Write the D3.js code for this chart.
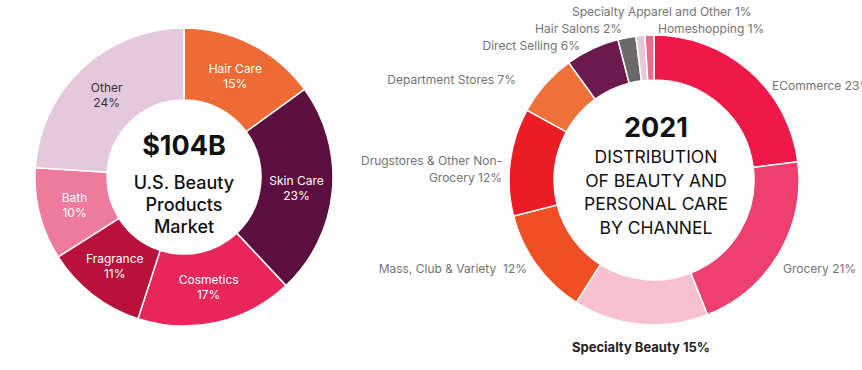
<!DOCTYPE html>
<html>
<head>
<meta charset="utf-8">
<script src="https://cdn.jsdelivr.net/npm/d3@7"></script>
<style>
  body { margin: 0; background: #fff; }
  text { font-family: Inter, "Noto Sans", sans-serif; }
</style>
</head>
<body>
<div id="chart"></div>
<script>
// Left donut: U.S. beauty products market
const productCats = ["Hair Care", "Skin Care", "Cosmetics", "Fragrance", "Bath", "Other"];
const productShares = [15, 23, 17, 11, 10, 24];
const productColors = ["#ee6b35", "#5c0e3f", "#e8265a", "#b8123c", "#ef7b9c", "#e4c8dd"];

// Right donut: distribution by channel (2021)
const channelCats = ["ECommerce", "Grocery", "Specialty Beauty", "Mass, Club & Variety", "Drugstores & Other Non-Grocery",
  "Department Stores", "Direct Selling", "Hair Salons", "Specialty Apparel and Other", "Homeshopping"];
const channelShares = [23, 21, 15, 12, 12, 7, 6, 2, 1, 1];
const channelColors = ["#ee1849", "#ee3f6e", "#f7c1cf", "#f04e23", "#ec1c24", "#f0703a", "#6c1a4e", "#6b6869", "#e2c9dc", "#f06a8b"];
const channelLabels = [
  ["ECommerce 23%"], ["Grocery 21%"], ["Specialty Beauty 15%"], ["Mass, Club & Variety  12%"],
  ["Drugstores & Other Non-", "Grocery 12%"], ["Department Stores 7%"], ["Direct Selling 6%"],
  ["Hair Salons 2%"], ["Specialty Apparel and Other 1%"], ["Homeshopping 1%"]
];

const width = 862, height = 370;

const svg = d3.select("#chart").append("svg")
  .attr("width", width)
  .attr("height", height);

const pie = d3.pie().sort(null).value(d => d);

// ---- left chart
const left = { cx: 184, cy: 177, r0: 77, r1: 149 };
const leftArc = d3.arc().innerRadius(left.r0).outerRadius(left.r1);
const gL = svg.append("g").attr("transform", `translate(${left.cx},${left.cy})`);

const leftArcs = pie(productShares);
gL.selectAll("path")
  .data(leftArcs)
  .join("path")
  .attr("d", leftArc)
  .attr("fill", (d, i) => productColors[i])
  .attr("stroke", "#fff")
  .attr("stroke-width", 1.5);

const leftLabelArc = d3.arc().innerRadius(113).outerRadius(113);
const lbl = gL.selectAll("text.slice")
  .data(leftArcs)
  .join("text")
  .attr("class", "slice")
  .attr("text-anchor", "middle")
  .attr("font-size", 12)
  .attr("fill", (d, i) => productCats[i] === "Other" ? "#333" : "#fff");
lbl.append("tspan")
  .attr("x", d => leftLabelArc.centroid(d)[0])
  .attr("y", d => leftLabelArc.centroid(d)[1] - 3)
  .text((d, i) => productCats[i]);
lbl.append("tspan")
  .attr("x", d => leftLabelArc.centroid(d)[0])
  .attr("y", d => leftLabelArc.centroid(d)[1] + 12)
  .text(d => d.data + "%");

gL.append("text")
  .attr("text-anchor", "middle").attr("y", -22)
  .attr("font-size", 27).attr("font-weight", 700).attr("fill", "#111")
  .text("$104B");
["U.S. Beauty", "Products", "Market"].forEach((t, i) => {
  gL.append("text")
    .attr("text-anchor", "middle").attr("y", 12 + i * 22)
    .attr("font-size", 18).attr("font-weight", 500).attr("fill", "#111")
    .text(t);
});

// ---- right chart
const right = { cx: 654, cy: 180, r0: 100, r1: 145 };
const rightArc = d3.arc().innerRadius(right.r0).outerRadius(right.r1);
const gR = svg.append("g").attr("transform", `translate(${right.cx},${right.cy})`);

const rightArcs = pie(channelShares);
gR.selectAll("path")
  .data(rightArcs)
  .join("path")
  .attr("d", rightArc)
  .attr("fill", (d, i) => channelColors[i])
  .attr("stroke", "#fff")
  .attr("stroke-width", 1.5);

// label anchor offsets from the donut centre (layout only)
const labelPos = [
  { dx: 118, dy: -90, anchor: "start" },
  { dx: 129, dy: 93, anchor: "start" },
  { dx: -13, dy: 172, anchor: "middle", bold: true },
  { dx: -127, dy: 93, anchor: "end" },
  { dx: -152, dy: -15, anchor: "end" },
  { dx: -138, dy: -96, anchor: "end" },
  { dx: -74, dy: -130, anchor: "end" },
  { dx: -32, dy: -147, anchor: "end" },
  { dx: -82, dy: -164, anchor: "start" },
  { dx: 4, dy: -147, anchor: "start" }
];

channelLabels.forEach((lines, i) => {
  const p = labelPos[i];
  const t = gR.append("text")
    .attr("text-anchor", p.anchor)
    .attr("font-size", p.bold ? 13 : 12)
    .attr("font-weight", p.bold ? 700 : 400)
    .attr("fill", p.bold ? "#222" : "#747474")
    .style("white-space", "pre");
  lines.forEach((line, j) => {
    t.append("tspan").attr("x", p.dx).attr("y", p.dy + j * 17).text(line);
  });
});

gR.append("text")
  .attr("text-anchor", "middle").attr("x", 2).attr("y", -43)
  .attr("font-size", 27).attr("font-weight", 700).attr("fill", "#111")
  .text("2021");
["DISTRIBUTION", "OF BEAUTY AND", "PERSONAL CARE", "BY CHANNEL"].forEach((t, i) => {
  gR.append("text")
    .attr("text-anchor", "middle").attr("x", 2).attr("y", -17 + i * 23.5)
    .attr("font-size", 17.5).attr("fill", "#111")
    .text(t);
});
</script>
</body>
</html>
